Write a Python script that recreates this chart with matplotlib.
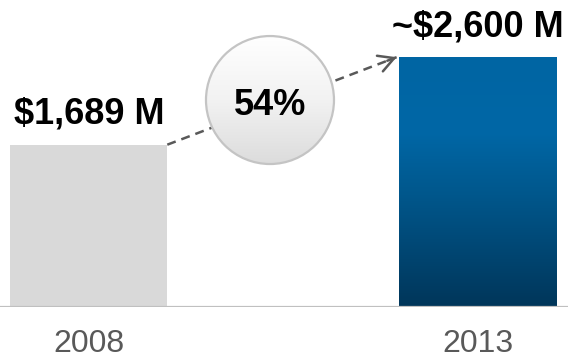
import matplotlib.pyplot as plt
import numpy as np
from matplotlib.patches import Ellipse
from matplotlib.colors import LinearSegmentedColormap

plt.rcParams['font.family'] = ['Liberation Sans', 'DejaVu Sans']

years = ['2008', '2013']
revenue = [1689, 2600]
value_labels = ['$1,689 M', '~$2,600 M']
growth_label = '54%'

fig = plt.figure(figsize=(5.68, 3.58), dpi=100)
ax = fig.add_axes([0, 51 / 358, 1, 307 / 358])

x = np.arange(len(years))
width = 0.404
bars = ax.bar(x, revenue, width, color=['#d9d9d9', 'none'], zorder=2)

# blue gradient for the 2013 bar (dark at the foot, brightest a little above the middle)
blue = LinearSegmentedColormap.from_list(
    'blue', [(0, '#00365a'), (0.45, '#00578c'), (0.7, '#0067a6'), (1, '#0065a3')])
b = bars[1]
grad = np.linspace(0, 1, 256).reshape(-1, 1)
im = ax.imshow(grad, cmap=blue, origin='lower', aspect='auto', zorder=2,
               extent=(b.get_x(), b.get_x() + b.get_width(), 0, b.get_height()))
im.set_clip_path(b)

ax.axhline(0, color='#c0c0c0', lw=1.6, zorder=3)

ax.set_xlim(-0.2283, 1.2328)
ax.set_ylim(0, 3195)

for xi, v, lbl in zip(x, revenue, value_labels):
    ax.annotate(lbl, (xi, v), xytext=(0, 15), textcoords='offset points',
                ha='center', va='baseline', fontsize=26, fontweight='bold')

# dashed growth arrow from one bar top to the other
start = (bars[0].get_x() + bars[0].get_width(), revenue[0])
end = (bars[1].get_x() - 0.006, revenue[1])
ax.plot([start[0], end[0]], [start[1], end[1]], color='#595959', lw=1.8,
        linestyle=(0, (3.6, 2.4)), zorder=4)
p0 = ax.transData.transform(start)
p1 = ax.transData.transform(end)
d = (p1 - p0) / np.hypot(*(p1 - p0))
back = -d * 10 * 72 / fig.dpi
ax.annotate('', xy=end, xytext=(back[0], back[1]), textcoords='offset points',
            arrowprops=dict(arrowstyle='->,head_length=0.55,head_width=0.3',
                            color='#595959', lw=1.8, shrinkA=0, shrinkB=0,
                            mutation_scale=20), zorder=4)

# growth bubble
cx, cy = 0.4662, 2154
r = 64
circle = Ellipse((cx, cy), 2 * r / 388.75, 2 * r / 0.0961, facecolor='none',
                 edgecolor='#c4c4c4', lw=1.6, zorder=6)
ax.add_patch(circle)
grey = LinearSegmentedColormap.from_list('grey', ['#dcdcdc', '#f2f2f2', '#ffffff'])
cim = ax.imshow(grad, cmap=grey, origin='lower', aspect='auto', zorder=5,
                extent=(cx - r / 388.75, cx + r / 388.75, cy - r / 0.0961, cy + r / 0.0961))
cim.set_clip_path(circle)
ax.annotate(growth_label, (cx, cy), xytext=(0, -10.8), textcoords='offset points',
            ha='center', va='baseline', fontsize=26, fontweight='bold', zorder=7)

ax.set_xlim(-0.2283, 1.2328)
ax.set_ylim(0, 3195)
ax.set_xticks(x, years)
ax.set_yticks([])
ax.tick_params(axis='x', length=0, pad=16, labelsize=23, labelcolor='#595959')
for s in ax.spines.values():
    s.set_visible(False)

fig.savefig('out.png', dpi=100)
